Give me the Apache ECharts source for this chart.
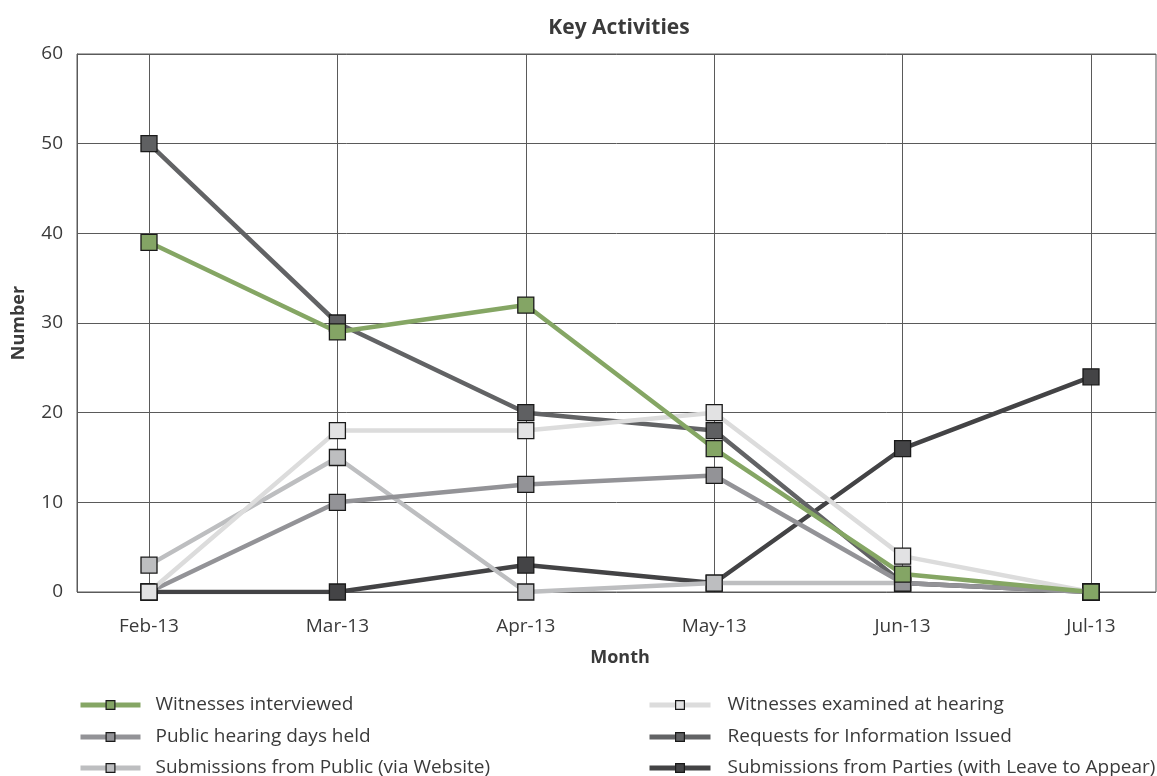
<!DOCTYPE html>
<html><head><meta charset="utf-8">
<script src="https://cdn.jsdelivr.net/npm/echarts@6/dist/echarts.min.js"></script>
<style>html,body{margin:0;padding:0;background:#fff}#c{width:1157px;height:776px}</style>
</head><body><div id="c"></div>
<script>
const months = ['Feb-13','Mar-13','Apr-13','May-13','Jun-13','Jul-13'];
const yTicks = [0,10,20,30,40,50,60];
const witnessesInterviewed = [39,29,32,16,2,0];
const witnessesExamined = [0,18,18,20,4,0];
const publicHearingDays = [0,10,12,13,1,0];
const requestsIssued = [50,30,20,18,1,0];
const submissionsPublic = [3,15,0,1,1,0];
const submissionsParties = [0,0,3,1,16,24];

const FONT = 'Open Sans';
const TXT = '#3a3a3a';
const chart = echarts.init(document.getElementById('c'), null, {renderer:'canvas'});
function mk(name, data, line, fill, z) {
  return {
    name, type:'line', data, xAxisIndex:1, yAxisIndex:1,
    symbol:'rect', symbolSize:16, z,
    lineStyle:{color:line, width:4.5},
    itemStyle:{color:fill, borderColor:'#1a1a1a', borderWidth:1.3},
    emphasis:{disabled:true}, animation:false
  };
}
function lg(name, left, top, w, pad) {
  return {
    data:[name], left, top, padding:0, orient:'horizontal',
    itemWidth:w, itemHeight:11, selectedMode:false,
    lineStyle:{width:5},
    itemStyle:{borderWidth:1.2, borderColor:'#1a1a1a'},
    textStyle:{fontFamily:FONT, fontSize:19, lineHeight:22, color:TXT, padding:[0,0,0,pad]}
  };
}
const rows = [694, 726, 757];
chart.setOption({
  animation:false,
  title:{text:'Key Activities', left:614, top:13, textAlign:'center',
    textStyle:{fontFamily:FONT, fontSize:21, fontWeight:'bold', color:TXT}},
  grid:[
    {left:77, top:54, width:1079, height:538, show:true, borderColor:'#5a5a5a', borderWidth:1, containLabel:false},
    {left:149, top:54, width:942, height:538, containLabel:false}
  ],
  xAxis:[
    {type:'value', gridIndex:0, show:false, min:0, max:1},
    {type:'category', gridIndex:1, data:months, boundaryGap:false,
     axisLine:{show:false}, axisTick:{show:false},
     splitLine:{show:true, lineStyle:{color:'#5a5a5a', width:1}},
     axisLabel:{margin:25, fontFamily:FONT, fontSize:19, color:TXT},
     name:'Month', nameLocation:'middle', nameGap:57,
     nameTextStyle:{fontFamily:FONT, fontSize:18, fontWeight:'bold', color:TXT}}
  ],
  yAxis:[
    {type:'value', gridIndex:0, min:yTicks[0], max:yTicks[yTicks.length-1], interval:10,
     axisLine:{show:true, lineStyle:{color:'#5a5a5a'}}, axisTick:{show:false},
     splitLine:{show:true, lineStyle:{color:'#5a5a5a', width:1}},
     axisLabel:{margin:14, fontFamily:FONT, fontSize:19, color:TXT},
     name:'Number', nameLocation:'middle', nameGap:49, nameRotate:90,
     nameTextStyle:{fontFamily:FONT, fontSize:18, fontWeight:'bold', color:TXT}},
    {type:'value', gridIndex:1, min:0, max:60, show:false}
  ],
  legend:[
    lg('Witnesses interviewed', 78, rows[0], 60, 10),
    lg('Public hearing days held', 78, rows[1], 60, 10),
    lg('Submissions from Public (via Website)', 78, rows[2], 60, 10),
    lg('Witnesses examined at hearing', 647, rows[0], 61, 12),
    lg('Requests for Information Issued', 647, rows[1], 61, 12),
    lg('Submissions from Parties (with Leave to Appear)', 647, rows[2], 61, 12)
  ],
  series:[
    mk('Submissions from Parties (with Leave to Appear)', submissionsParties, '#434345', '#444446', 2),
    mk('Submissions from Public (via Website)', submissionsPublic, '#bdbec0', '#bdbec0', 3),
    mk('Requests for Information Issued', requestsIssued, '#626365', '#5f6062', 4),
    mk('Public hearing days held', publicHearingDays, '#939397', '#939397', 5),
    mk('Witnesses examined at hearing', witnessesExamined, '#dcdcdc', '#e2e2e3', 6),
    mk('Witnesses interviewed', witnessesInterviewed, '#85a664', '#84a565', 7)
  ]
});
</script></body></html>
